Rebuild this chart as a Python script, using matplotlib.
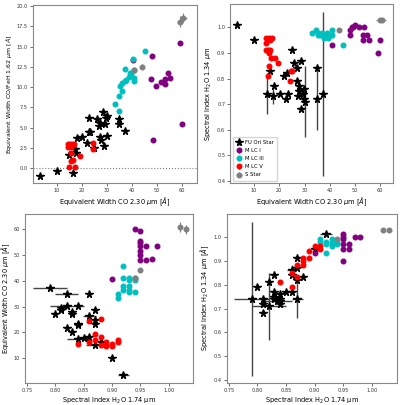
import matplotlib
matplotlib.use("Agg")
import matplotlib.pyplot as plt
import numpy as np

# ---------------- Panel 1: EW CO 2.30 vs EW CO/FeH 1.62 ----------------
fu_x1 = [3.5, 10.0, 14.9, 16.4, 17.2, 17.9, 18.1, 20.1, 22.0, 22.8, 23.2, 23.1, 25.1, 26.0,
         26.8, 27.3, 27.5, 27.9, 28.7, 28.8, 29.3, 29.7, 30.1, 30.0, 34.8, 35.1, 37.2]
fu_y1 = [-1.0, -0.33, 1.57, -0.62, 2.3, 1.86, 3.7, 3.8, 3.1, 4.5, 4.5, 6.2, 2.5, 6.0,
         5.2, 5.6, 3.8, 3.4, 6.9, 2.7, 5.4, 6.2, 6.4, 4.0, 6.0, 5.4, 4.6]
m1_x1 = [40.5, 48.3, 47.7, 49.7, 51.7, 53.3, 53.5, 54.7, 55.5, 59.2, 60.3, 48.7]
m1_y1 = [13.3, 13.8, 11.0, 10.1, 10.6, 10.4, 11.0, 11.7, 11.1, 15.5, 5.4, 3.5]
m3_x1 = [33.2, 34.9, 34.8, 35.5, 36.1, 36.3, 37.3, 37.2, 37.6, 38.9, 39.3, 39.7, 40.7, 41.1,
         41.1, 41.1, 45.5]
m3_y1 = [7.85, 7.0, 8.9, 10.1, 10.45, 9.5, 12.2, 10.8, 10.9, 11.2, 11.8, 11.6, 13.5, 12.1,
         11.1, 10.7, 14.5]
mv_x1 = [14.4, 14.7, 15.4, 15.6, 16.2, 17.0, 14.8, 17.2, 15.9, 16.4, 15.7, 19.5, 24.4, 24.7]
mv_y1 = [2.6, 2.9, 3.0, 2.6, 2.9, 3.0, 0.1, 0.1, 0.8, 1.0, 1.8, 1.45, 2.3, 3.1]
s_x1 = [41.1, 44.1, 59.2, 60.7]
s_y1 = [12.1, 12.5, 18.1, 18.6]
s_xerr1 = [0.3, 0.3, 1.2, 1.5]
s_yerr1 = [0.3, 0.3, 0.7, 0.6]

# ---------------- Panel 2: EW CO 2.30 vs H2O 1.34 ----------------
fu_x2 = [3.4, 10.0, 15.2, 16.4, 17.3, 17.8, 20.2, 21.8, 23.1, 22.7, 23.5, 25.0, 25.9, 26.8,
         27.0, 27.2, 27.8, 27.9, 28.6, 28.6, 29.5, 29.9, 29.6, 30.3, 34.8, 35.1, 37.2]
fu_y2 = [1.01, 0.95, 0.74, 0.83, 0.73, 0.77, 0.74, 0.81, 0.82, 0.72, 0.74, 0.91, 0.86, 0.84,
         0.79, 0.73, 0.77, 0.75, 0.87, 0.68, 0.74, 0.76, 0.72, 0.71, 0.84, 0.72, 0.74]
fu_yerr2 = [0, 0, 0.08, 0, 0.03, 0, 0, 0, 0, 0, 0, 0, 0, 0,
            0, 0, 0, 0, 0, 0, 0, 0, 0, 0.14, 0, 0.12, 0.32]
m1_x2 = [40.8, 48.1, 48.1, 48.6, 49.1, 49.8, 51.7, 53.7, 53.3, 54.6, 53.3, 55.4, 60.0, 58.9]
m1_y2 = [0.93, 0.97, 0.99, 1.00, 1.00, 1.01, 1.00, 1.00, 0.97, 0.97, 0.95, 0.95, 0.95, 0.90]
m3_x2 = [33.1, 34.7, 35.5, 36.0, 36.8, 37.5, 37.5, 38.8, 39.4, 40.4, 41.0, 40.8, 45.4, 35.4]
m3_y2 = [0.98, 0.99, 0.98, 0.97, 0.98, 0.97, 0.96, 0.98, 0.96, 0.97, 0.99, 0.97, 0.93, 0.97]
mv_x2 = [14.6, 14.9, 15.8, 16.9, 16.5, 14.8, 15.6, 16.4, 16.0, 16.1, 15.6, 16.7, 18.4, 19.4,
         24.2, 24.5, 25.0]
mv_y2 = [0.94, 0.96, 0.96, 0.96, 0.95, 0.91, 0.91, 0.91, 0.90, 0.85, 0.81, 0.88, 0.88, 0.86,
         0.79, 0.83, 0.83]
s_x2 = [43.8, 59.7, 60.7]
s_y2 = [0.99, 1.03, 1.03]
s_xerr2 = [0.3, 1.5, 1.5]

# ---------------- Panel 3: H2O 1.74 vs EW CO 2.30 ----------------
fu_x3 = [0.79, 0.82, 0.86, 0.82, 0.81, 0.81, 0.80, 0.83, 0.83, 0.84, 0.87, 0.82, 0.83, 0.84,
         0.84, 0.86, 0.87, 0.87, 0.84, 0.85, 0.86, 0.87, 0.88, 0.90, 0.92]
fu_y3 = [37.3, 35.0, 34.9, 30.2, 29.6, 28.7, 27.0, 27.9, 27.0, 30.1, 28.7, 21.8, 20.1, 23.3,
         22.7, 26.3, 24.9, 23.3, 17.3, 17.8, 18.2, 15.3, 16.2, 10.1, 3.5]
fu_xerr3 = [0.03, 0.02, 0, 0.03, 0, 0, 0, 0, 0, 0, 0, 0, 0, 0,
            0, 0.012, 0, 0, 0.02, 0, 0, 0.015, 0, 0, 0.01]
m1_x3 = [0.90, 0.94, 0.95, 0.95, 0.95, 0.95, 0.95, 0.95, 0.95, 0.96, 0.96, 0.97, 0.98]
m1_y3 = [40.6, 60.2, 59.2, 55.6, 54.6, 53.5, 51.6, 49.9, 48.0, 53.5, 48.2, 48.6, 53.5]
m3_x3 = [0.91, 0.91, 0.92, 0.92, 0.92, 0.92, 0.93, 0.93, 0.93, 0.93, 0.93, 0.94, 0.94, 0.94]
m3_y3 = [35.0, 33.3, 45.7, 41.1, 37.8, 36.6, 41.1, 40.2, 37.8, 36.6, 35.6, 41.1, 40.2, 35.6]
mv_x3 = [0.86, 0.88, 0.87, 0.88, 0.87, 0.86, 0.84, 0.88, 0.89, 0.89, 0.90, 0.90, 0.91, 0.91, 0.89]
mv_y3 = [24.6, 25.3, 19.5, 18.4, 16.9, 16.2, 15.6, 15.3, 15.3, 16.2, 15.6, 14.9, 16.9, 16.2, 14.7]
s_x3 = [0.94, 0.95, 1.02, 1.03]
s_y3 = [41.2, 44.1, 60.9, 59.9]
s_yerr3 = [0.3, 0.3, 2.0, 1.8]

# ---------------- Panel 4: H2O 1.74 vs H2O 1.34 ----------------
fu_x4 = [0.79, 0.81, 0.81, 0.81, 0.80, 0.82, 0.82, 0.83, 0.83, 0.83, 0.83, 0.835, 0.84, 0.84,
         0.84, 0.84, 0.85, 0.86, 0.86, 0.86, 0.87, 0.87, 0.87, 0.87, 0.88, 0.90, 0.92]
fu_y4 = [0.74, 0.74, 0.72, 0.68, 0.79, 0.81, 0.71, 0.84, 0.77, 0.75, 0.74, 0.73, 0.76, 0.74,
         0.73, 0.72, 0.77, 0.77, 0.84, 0.86, 0.91, 0.87, 0.82, 0.74, 0.83, 0.95, 1.01]
fu_xerr4 = [0.03, 0, 0, 0, 0, 0, 0.03, 0, 0, 0, 0, 0.025, 0, 0,
            0, 0, 0, 0, 0, 0.008, 0, 0, 0, 0.01, 0, 0, 0.01]
fu_yerr4 = [0.32, 0, 0, 0, 0, 0, 0.14, 0, 0, 0, 0, 0, 0, 0,
            0, 0, 0, 0, 0, 0.02, 0, 0, 0, 0.08, 0, 0, 0]
m1_x4 = [0.90, 0.95, 0.95, 0.95, 0.95, 0.95, 0.95, 0.96, 0.96, 0.97, 0.98]
m1_y4 = [0.93, 1.01, 1.00, 0.99, 0.97, 0.95, 0.90, 0.97, 0.95, 1.00, 1.00]
m3_x4 = [0.91, 0.91, 0.92, 0.92, 0.92, 0.93, 0.93, 0.93, 0.93, 0.94, 0.94]
m3_y4 = [0.99, 0.98, 0.93, 0.98, 0.97, 0.99, 0.98, 0.97, 0.96, 0.98, 0.97]
mv_x4 = [0.84, 0.86, 0.86, 0.87, 0.87, 0.88, 0.88, 0.88, 0.89, 0.89, 0.90, 0.91, 0.91]
mv_y4 = [0.81, 0.85, 0.79, 0.88, 0.83, 0.91, 0.90, 0.88, 0.94, 0.91, 0.96, 0.96, 0.95]
s_x4 = [0.94, 1.02, 1.03]
s_y4 = [0.99, 1.03, 1.03]

labels = ["FU Ori Star", "M LC I", "M LC III", "M LC V", "S Star"]
colors = ["k", "purple", "c", "r", "gray"]

plt.rcParams['font.family'] = ['DejaVu Sans']
fig = plt.figure(figsize=(4.0, 4.05), dpi=100)
W, H = 400.0, 405.0
def box(l, r, t, b):
    return [l / W, 1 - b / H, (r - l) / W, (b - t) / H]

ax1 = fig.add_axes(box(32.7, 196.7, 5, 183.3))
ax2 = fig.add_axes(box(230, 393.3, 4, 183.3))
ax3 = fig.add_axes(box(25, 193.3, 214, 382.7))
ax4 = fig.add_axes(box(226.7, 396.7, 214, 382.7))

STAR = dict(fmt='*', color='k', ms=5.3, ecolor='#444444', elinewidth=1.0, capsize=0)
DOT = dict(fmt='o', ms=3.3, elinewidth=0.8, capsize=0)

def draw(ax, fx, fy, fxe, fye, m1, m3, mv, s, sxe, sye, dye):
    h = []
    h.append(ax.errorbar(fx, fy, xerr=fxe, yerr=fye, label=labels[0], **STAR))
    for (xx, yy), col, lab in zip([m1, m3, mv], colors[1:4], labels[1:4]):
        h.append(ax.errorbar(xx, yy, yerr=dye, color=col, ecolor=col, label=lab, **DOT))
    h.append(ax.errorbar(s[0], s[1], xerr=sxe, yerr=sye, color='gray', ecolor='gray',
                         label=labels[4], **DOT))
    return h

draw(ax1, fu_x1, fu_y1, None, None, (m1_x1, m1_y1), (m3_x1, m3_y1), (mv_x1, mv_y1),
     (s_x1, s_y1), s_xerr1, s_yerr1, 0.25)
ax1.axhline(0, color='gray', ls=':', lw=0.8)
h2 = draw(ax2, fu_x2, fu_y2, None, fu_yerr2, (m1_x2, m1_y2), (m3_x2, m3_y2), (mv_x2, mv_y2),
          (s_x2, s_y2), s_xerr2, 0.004, 0.004)
draw(ax3, fu_x3, fu_y3, fu_xerr3, None, (m1_x3, m1_y3), (m3_x3, m3_y3), (mv_x3, mv_y3),
     (s_x3, s_y3), None, s_yerr3, 0.3)
draw(ax4, fu_x4, fu_y4, fu_xerr4, fu_yerr4, (m1_x4, m1_y4), (m3_x4, m3_y4), (mv_x4, mv_y4),
     (s_x4, s_y4), None, 0.004, 0.004)

ax1.set_ylim(-1.9, 20.15)
ax1.set_xlim(0.4, 66)
ax1.set_yticks(np.arange(0, 20.1, 2.5))
ax1.set_xticks([10, 20, 30, 40, 50, 60])
ax2.set_xticks([10, 20, 30, 40, 50, 60])
ax2.set_ylim(0.39, 1.092)
ax4.set_ylim(0.39, 1.095)
ax3.set_xticks([0.75, 0.80, 0.85, 0.90, 0.95, 1.00])
ax4.set_xticks([0.75, 0.80, 0.85, 0.90, 0.95, 1.00])

lab_fs = 4.8
ax1.set_xlabel(r"Equivalent Width CO 2.30 $\mu$m [$\AA$]", fontsize=lab_fs, labelpad=2)
ax2.set_xlabel(r"Equivalent Width CO 2.30 $\mu$m [$\AA$]", fontsize=lab_fs, labelpad=2)
ax1.set_ylabel(r"Equivalent Width CO/FeH 1.62 $\mu$m [$\AA$]", fontsize=4.5, labelpad=2)
ax2.set_ylabel(r"Spectral Index H$_2$O 1.34 $\mu$m", fontsize=lab_fs, labelpad=2)
ax3.set_xlabel("Spectral Index H$_2$O 1.74 μm", fontsize=lab_fs, labelpad=2)
ax4.set_xlabel("Spectral Index H$_2$O 1.74 μm", fontsize=lab_fs, labelpad=2)
ax3.set_ylabel(r"Equivalent Width CO 2.30 $\mu$m [$\AA$]", fontsize=lab_fs, labelpad=1.5)
ax4.set_ylabel(r"Spectral Index H$_2$O 1.34 $\mu$m [$\AA$]", fontsize=lab_fs, labelpad=2)

for ax in (ax1, ax2, ax3, ax4):
    ax.tick_params(labelsize=3.6, length=2, width=0.5, pad=1.5, colors='#333333')
    for sp in ax.spines.values():
        sp.set_color('#888888')
        sp.set_linewidth(0.8)

ax2.legend(handles=h2, loc='lower left', fontsize=3.8, frameon=True, handletextpad=0.6,
           borderpad=0.6, labelspacing=0.6, handlelength=1.2)

fig.savefig("out.png", dpi=100)
